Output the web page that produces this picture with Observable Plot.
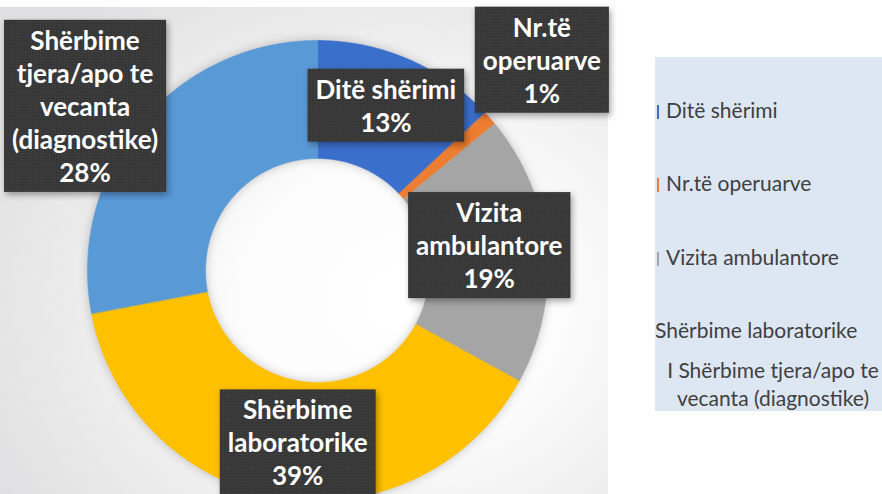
<!DOCTYPE html>
<html>
<head>
<meta charset="utf-8">
<script src="https://cdn.jsdelivr.net/npm/d3@7"></script>
<script src="https://cdn.jsdelivr.net/npm/@observablehq/plot@0.6"></script>
<style>
  html, body { margin: 0; padding: 0; background: #ffffff; }
  #wrap { position: relative; width: 882px; height: 494px; overflow: hidden; font-family: Lato, "Open Sans", sans-serif; }
  #bg { position: absolute; left: 0; top: 7px; width: 608px; height: 487px;
        background: radial-gradient(ellipse 75% 80% at 66% 60%, #ffffff 0%, #fcfcfc 35%, #eaeaea 75%, #e0e0e2 100%); }
  #chart { position: absolute; left: 0; top: 0; }
  #legend { position: absolute; left: 655px; top: 57px; width: 227px; height: 354px; background: #dde7f3;
            color: #404040; font-family: Lato, sans-serif; font-size: 21px; }
  .li { position: absolute; left: 0; white-space: nowrap; line-height: 24px; transform: translateY(-50%); }
  .mk { display: inline-block; width: 2px; height: 14px; margin-left: 2px; margin-right: 7px; vertical-align: -1px; }
  .li.center { left: 0; width: 236px; text-align: center; white-space: normal; line-height: 28px; }
</style>
</head>
<body>
<div id="wrap">
  <div id="bg"></div>
  <div id="chart"></div>
  <div id="legend"></div>
</div>
<script>
// ---- data ----
const categories = ["Ditë shërimi", "Nr.të operuarve", "Vizita ambulantore", "Shërbime laboratorike", "Shërbime tjera/apo te vecanta (diagnostike)"];
const values = [13, 1, 19, 39, 28];
const labelLines = [["Ditë shërimi"], ["Nr.të", "operuarve"], ["Vizita", "ambulantore"], ["Shërbime", "laboratorike"], ["Shërbime", "tjera/apo te", "vecanta", "(diagnostike)"]];
const colors = ["#3b6fcc", "#ed7d31", "#a5a5a5", "#ffc000", "#5999d6"];
const legendLabels = ["Ditë shërimi", "Nr.të operuarve", "Vizita ambulantore", "Shërbime laboratorike", "I Shërbime tjera/apo te vecanta (diagnostike)"];

// ---- layout (not data) ----
const innerRatio = 0.487;
const labelRadius = [0.78, 1.34, 0.755, 0.75, 1.24];
const labelAngleNudge = [-1, -1.9, -3.2, -2.4, -4.2]; // degrees

// ---- build slice polygons from values ----
const total = d3.sum(values);
const slicePts = [];
const labelData = [];
let acc = 0;
values.forEach((v, i) => {
  const a0 = acc / total * 2 * Math.PI;
  acc += v;
  const a1 = acc / total * 2 * Math.PI;
  const n = Math.max(4, Math.ceil((a1 - a0) / 0.005));
  for (let k = 0; k <= n; k++) {
    const a = a0 + (a1 - a0) * k / n;
    slicePts.push({cat: categories[i], x: Math.sin(a), y: Math.cos(a)});
  }
  for (let k = n; k >= 0; k--) {
    const a = a0 + (a1 - a0) * k / n;
    slicePts.push({cat: categories[i], x: innerRatio * Math.sin(a), y: innerRatio * Math.cos(a)});
  }
  const am = (a0 + a1) / 2 + labelAngleNudge[i] * Math.PI / 180;
  labelData.push({
    cat: categories[i],
    x: labelRadius[i] * Math.sin(am),
    y: labelRadius[i] * Math.cos(am),
    text: [...labelLines[i], `${v}%`].join("\n")
  });
});

const cx = 317, cy = 270, R = 230;
const plot = Plot.plot({
  width: 882,
  height: 494,
  margin: 0,
  style: {background: "transparent", overflow: "visible"},
  x: {domain: [-1, 1], range: [cx - R, cx + R], axis: null},
  y: {domain: [-1, 1], range: [cy + R, cy - R], axis: null},
  color: {domain: categories, range: colors},
  marks: [
    Plot.line(slicePts, {x: "x", y: "y", z: "cat", fill: "cat", stroke: "cat", strokeWidth: 0.6, curve: "linear-closed"}),
    Plot.text(labelData, {x: "x", y: "y", text: "text", fill: "white", fontSize: 26, fontWeight: "bold",
      fontFamily: "Lato, sans-serif", lineHeight: 1.27, lineAnchor: "middle"})
  ]
});
document.getElementById("chart").appendChild(plot);

// donut glow
const lineG = plot.querySelector('g[aria-label="line"]');
if (lineG) lineG.style.filter = "drop-shadow(0px 0px 5px rgba(0,0,0,0.22))";

// pattern for label boxes
const ns = "http://www.w3.org/2000/svg";
const defs = document.createElementNS(ns, "defs");
defs.innerHTML = '<pattern id="dots" width="3" height="3" patternUnits="userSpaceOnUse">' +
  '<rect width="3" height="3" fill="#373737"/><rect x="0" y="0" width="1" height="1" fill="#4a4a4a"/></pattern>';
plot.insertBefore(defs, plot.firstChild);

// dark boxes behind label texts
const textG = plot.querySelector('g[aria-label="text"]');
textG.querySelectorAll("text").forEach(t => {
  const b = t.getBBox();
  const padX = 8, padY = 4;
  const r = document.createElementNS(ns, "rect");
  r.setAttribute("x", b.x - padX);
  r.setAttribute("y", b.y - padY);
  r.setAttribute("width", b.width + 2 * padX);
  r.setAttribute("height", b.height + 2 * padY);
  r.setAttribute("fill", "url(#dots)");
  r.setAttribute("transform", t.getAttribute("transform") || "");
  r.style.filter = "drop-shadow(2px 3px 3px rgba(0,0,0,0.35))";
  textG.insertBefore(r, t);
});

// legend
const legendY = [110, 183, 257, 330, 384];
const lg = document.getElementById("legend");
legendLabels.forEach((name, i) => {
  const d = document.createElement("div");
  d.className = "li" + (i === 4 ? " center" : "");
  d.style.top = (legendY[i] - 57) + "px";
  if (i < 3) {
    const m = document.createElement("span");
    m.className = "mk";
    m.style.background = colors[i];
    d.appendChild(m);
  }
  d.appendChild(document.createTextNode(name));
  lg.appendChild(d);
});
</script>
</body>
</html>
